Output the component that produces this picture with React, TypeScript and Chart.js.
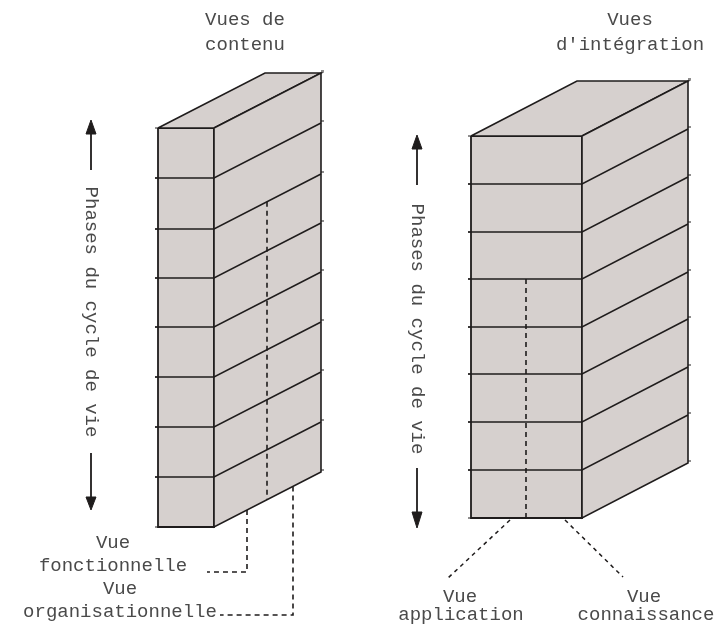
import React, { useEffect, useRef } from "react";
import { Chart, registerables } from "chart.js";

Chart.register(...registerables);

// ---- text content ----
const TITLE_CONTENT = ["Vues de", "contenu"];
const TITLE_INTEGRATION = ["Vues", "d'intégration"];
const AXIS_TEXT = "Phases du cycle de vie";
const LABEL_FONCTIONNELLE = ["Vue", "fonctionnelle"];
const LABEL_ORGANISATION = ["Vue", "organisationnelle"];
const LABEL_APPLICATION = ["Vue", "application"];
const LABEL_CONNAISSANCE = ["Vue", "connaissance"];

// ---- values (chart units) ----
// phase boundaries on the front face of each block (8 phases)
const PHASES_CONTENT = [128, 178, 229, 278, 327, 377, 427, 477, 527];
const PHASES_INTEGRATION = [136, 184, 232, 279, 327, 374, 422, 470, 518];
// front face x extent
const FRONT_CONTENT = [158, 214];
const FRONT_INTEGRATION = [471, 582];
// depth vector of the block
const DEPTH_CONTENT = [107, -55];
const DEPTH_INTEGRATION = [106, -55];

const INK = "#1f1c1c";
const FACE = "#d6d0ce";
const TEXT = "#4a4a4a";
const FONT = '19px "Liberation Mono", "Courier New", monospace';

type P = [number, number];

function line(points: P[], extra: any = {}) {
  return {
    type: "line",
    data: points.map(([x, y]) => ({ x, y })),
    borderColor: INK,
    borderWidth: 1.6,
    pointRadius: 0,
    tension: 0,
    fill: false,
    ...extra,
  };
}

function poly(points: P[], extra: any = {}) {
  return line([...points, points[0]], {
    fill: "shape",
    backgroundColor: FACE,
    borderJoinStyle: "miter",
    ...extra,
  });
}

function block(front: number[], rows: number[], depth: number[]) {
  const [fl, fr] = front;
  const [dx, dy] = depth;
  const top = rows[0];
  const bot = rows[rows.length - 1];
  const ds: any[] = [];
  ds.push(poly([[fl, top], [fr, top], [fr, bot], [fl, bot]], { borderWidth: 1.8 }));
  ds.push(poly([[fl, top], [fr, top], [fr + dx, top + dy], [fl + dx, top + dy]], { borderWidth: 1.6 }));
  ds.push(poly([[fr, top], [fr + dx, top + dy], [fr + dx, bot + dy], [fr, bot]], { borderWidth: 1.6 }));
  rows.slice(1, -1).forEach((y) => {
    ds.push(line([[fl - 3, y], [fr, y], [fr + dx, y + dy]], { borderWidth: 1.5 }));
  });
  rows.forEach((y) => {
    ds.push(line([[fr + dx, y + dy - 2], [fr + dx + 3, y + dy - 2]], { borderWidth: 1 }));
    ds.push(line([[fl - 3, y], [fl, y]], { borderWidth: 1 }));
  });
  return ds;
}

function arrowUp(x: number, tip: number, base: number, end: number) {
  return [
    line([[x, base], [x, end]], { borderWidth: 1.8 }),
    poly([[x, tip], [x + 5, base + 1], [x - 5, base + 1]], { backgroundColor: INK, borderWidth: 1 }),
  ];
}
function arrowDown(x: number, start: number, base: number, tip: number) {
  return [
    line([[x, start], [x, base]], { borderWidth: 1.8 }),
    poly([[x, tip], [x + 5, base - 1], [x - 5, base - 1]], { backgroundColor: INK, borderWidth: 1 }),
  ];
}

const DASH = { borderDash: [5, 4], borderWidth: 1.6 };

function buildDatasets() {
  const ds: any[] = [];
  ds.push(...block(FRONT_CONTENT, PHASES_CONTENT, DEPTH_CONTENT));
  ds.push(...block(FRONT_INTEGRATION, PHASES_INTEGRATION, DEPTH_INTEGRATION));

  // interior dashed line on the side face of the content block
  {
    const [, fr] = FRONT_CONTENT;
    const [dx, dy] = DEPTH_CONTENT;
    const t = 53 / dx;
    const x = fr + t * dx;
    ds.push(line([[x, PHASES_CONTENT[2] + t * dy], [x, PHASES_CONTENT[8] + t * dy]], DASH));
    // leaders
    const t1 = 33 / dx;
    const t2 = 79 / dx;
    ds.push(line([[fr + t1 * dx, PHASES_CONTENT[8] + t1 * dy], [fr + t1 * dx, 572], [207, 572]], DASH));
    ds.push(line([[fr + t2 * dx, PHASES_CONTENT[8] + t2 * dy], [fr + t2 * dx, 615], [220, 615]], DASH));
  }
  // interior dashed line on the front face of the integration block
  {
    const bot = PHASES_INTEGRATION[8];
    ds.push(line([[526, PHASES_INTEGRATION[3]], [526, bot]], DASH));
    ds.push(line([[510, bot + 2], [448, 578]], { borderDash: [4, 4], borderWidth: 1.5 }));
    ds.push(line([[565, bot + 2], [623, 577]], { borderDash: [4, 4], borderWidth: 1.5 }));
  }

  ds.push(...arrowUp(91, 120, 133, 170));
  ds.push(...arrowDown(91, 453, 498, 510));
  ds.push(...arrowUp(417, 135, 148, 185));
  ds.push(...arrowDown(417, 468, 513, 528));
  // later datasets are drawn on top
  return ds.map((d, i) => ({ ...d, order: -i }));
}

type T = { text: string; x: number; y: number; rot?: boolean };
const TEXTS: T[] = [
  { text: TITLE_CONTENT[0], x: 245, y: 20 },
  { text: TITLE_CONTENT[1], x: 245, y: 45 },
  { text: TITLE_INTEGRATION[0], x: 630, y: 20 },
  { text: TITLE_INTEGRATION[1], x: 630, y: 45 },
  { text: LABEL_FONCTIONNELLE[0], x: 113, y: 543 },
  { text: LABEL_FONCTIONNELLE[1], x: 113, y: 566 },
  { text: LABEL_ORGANISATION[0], x: 120, y: 589 },
  { text: LABEL_ORGANISATION[1], x: 120, y: 612 },
  { text: LABEL_APPLICATION[0], x: 460, y: 597 },
  { text: LABEL_APPLICATION[1], x: 461, y: 615 },
  { text: LABEL_CONNAISSANCE[0], x: 644, y: 597 },
  { text: LABEL_CONNAISSANCE[1], x: 646, y: 615 },
  { text: AXIS_TEXT, x: 91, y: 312, rot: true },
  { text: AXIS_TEXT, x: 417, y: 329, rot: true },
];

const textPlugin = {
  id: "diagramText",
  afterDraw(chart: any) {
    const { ctx, scales } = chart;
    ctx.save();
    ctx.font = FONT;
    ctx.fillStyle = TEXT;
    ctx.textAlign = "center";
    ctx.textBaseline = "middle";
    TEXTS.forEach((t) => {
      const px = scales.x.getPixelForValue(t.x);
      const py = scales.y.getPixelForValue(t.y);
      if (t.rot) {
        ctx.save();
        ctx.translate(px, py);
        ctx.rotate(Math.PI / 2);
        ctx.fillText(t.text, 0, 0);
        ctx.restore();
      } else {
        ctx.fillText(t.text, px, py);
      }
    });
    ctx.restore();
  },
};

export default function App() {
  const ref = useRef<HTMLCanvasElement | null>(null);
  useEffect(() => {
    if (!ref.current) return;
    const chart = new Chart(ref.current, {
      type: "line",
      data: { datasets: buildDatasets() as any },
      options: {
        animation: false,
        responsive: false,
        devicePixelRatio: 1,
        events: [],
        layout: { padding: 0 },
        plugins: { legend: { display: false }, tooltip: { enabled: false } },
        scales: {
          x: { type: "linear", min: 0, max: 719, display: false },
          y: { type: "linear", min: 0, max: 631, reverse: true, display: false },
        },
      } as any,
      plugins: [textPlugin],
    });
    return () => chart.destroy();
  }, []);
  return (
    <canvas
      ref={ref}
      width={719}
      height={631}
      style={{ position: "fixed", left: 0, top: 0, width: 719, height: 631, background: "#fff" }}
    />
  );
}
